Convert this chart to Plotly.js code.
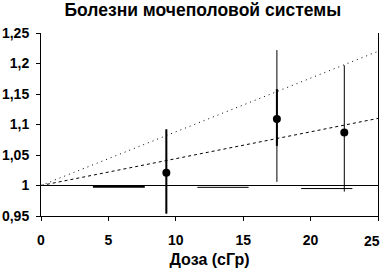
<!DOCTYPE html>
<html>
<head>
<meta charset="utf-8">
<script src="https://cdn.plot.ly/plotly-3.0.1.min.js"></script>
<style>html,body{margin:0;padding:0;background:#fff;}#chart{width:382px;height:271px;}</style>
</head>
<body>
<div id="chart"></div>
<script>
// Data
var dose = [9.3, 17.5, 22.5];
var rr = [1.021, 1.109, 1.087];
var thickLow = [0.954, 1.065, null];
var thickHigh = [1.092, 1.158, null];
var thinLow = [0.954, 1.006, 0.990];
var thinHigh = [1.092, 1.222, 1.197];

var segX = [[3.85, 7.7], [11.6, 15.4], [19.3, 23.1]];
var segY = [0.998, 0.997, 0.995];
var segW = [2, 1, 1];

var fitX = [0, 25];
var upperFit = [1, 1.22];
var lowerFit = [1, 1.11];
var refY = [1, 1];

var yTickVals = [0.95, 1, 1.05, 1.1, 1.15, 1.2, 1.25];
var yTickText = ['0,95', '1', '1,05', '1,1', '1,15', '1,2', '1,25'];
var xTickVals = [0, 5, 10, 15, 20, 25];
var xTickText = ['0', '5', '10', '15', '20', '25'];

var FONT = 'Liberation Sans, Arial, Helvetica, sans-serif';

function plus(a, b) { return a.map(function (v, i) { return (v === null || b[i] === null) ? null : v - b[i]; }); }

var traces = [];
traces.push({x: fitX, y: refY, mode: 'lines', line: {color: '#000', width: 1}, hoverinfo: 'skip'});
traces.push({x: fitX, y: upperFit, mode: 'lines', line: {color: '#000', width: 1, dash: '1px,4px'}, hoverinfo: 'skip'});
traces.push({x: fitX, y: lowerFit, mode: 'lines', line: {color: '#000', width: 1, dash: '3px,3px'}, hoverinfo: 'skip'});
for (var i = 0; i < segX.length; i++) {
  traces.push({x: segX[i], y: [segY[i], segY[i]], mode: 'lines', line: {color: '#000', width: segW[i]}, hoverinfo: 'skip'});
}
traces.push({x: dose, y: rr, mode: 'markers', marker: {size: 0.1, color: 'rgba(0,0,0,0)'},
  error_y: {type: 'data', symmetric: false, array: plus(thinHigh, rr), arrayminus: plus(rr, thinLow), width: 0, thickness: 1, color: '#000'}});
traces.push({x: dose, y: rr, mode: 'markers', marker: {size: 0.1, color: 'rgba(0,0,0,0)'},
  error_y: {type: 'data', symmetric: false, array: plus(thickHigh, rr), arrayminus: plus(rr, thickLow), width: 0, thickness: 2, color: '#000'}});
traces.push({x: dose, y: rr, mode: 'markers', marker: {size: 8, color: '#000'}});

// last x label is right-aligned at the chart edge (as in the reference), the rest are centred on their ticks
var last = xTickVals.length - 1;
var axisTickText = xTickText.map(function (t, i) { return i === last ? '' : t; });

var layout = {
  width: 382, height: 271,
  margin: {l: 41, r: 4, t: 33, b: 55},
  paper_bgcolor: '#fff', plot_bgcolor: '#fff',
  showlegend: false,
  font: {family: FONT, color: '#000', size: 14, weight: 'bold'},
  title: {text: 'Болезни мочеполовой системы', font: {family: FONT, size: 17.5, weight: 'bold', color: '#000'},
    x: 0.531, xanchor: 'center', xref: 'container', y: 0.963, yanchor: 'middle', yref: 'container'},
  xaxis: {range: [0, 25], tickvals: xTickVals, ticktext: axisTickText, ticks: 'outside', ticklen: 4, tickwidth: 1, tickcolor: '#000',
    showline: true, linecolor: '#000', linewidth: 1, showgrid: false, zeroline: false,
    ticklabelstandoff: 7, ticklabeloverflow: 'allow', tickfont: {family: FONT, size: 14, weight: 'bold'},
    title: {text: 'Доза (сГр)', font: {family: FONT, size: 16, weight: 'bold'}, standoff: 7}},
  yaxis: {range: [0.95, 1.25], tickvals: yTickVals, ticktext: yTickText, ticks: 'outside', ticklen: 4, tickwidth: 1, tickcolor: '#000',
    showline: true, mirror: true, linecolor: '#000', linewidth: 1, showgrid: false, zeroline: false,
    ticklabelstandoff: 4, tickfont: {family: FONT, size: 14, weight: 'bold'}},
  annotations: [{text: xTickText[last], x: xTickVals[last], xref: 'x', xanchor: 'right', xshift: 3,
    y: 0, yref: 'paper', yanchor: 'middle', yshift: -25, showarrow: false, borderpad: 0,
    font: {family: FONT, size: 14, weight: 'bold', color: '#000'}}]
};

Plotly.newPlot('chart', traces, layout, {displayModeBar: false, staticPlot: true});
</script>
</body>
</html>
